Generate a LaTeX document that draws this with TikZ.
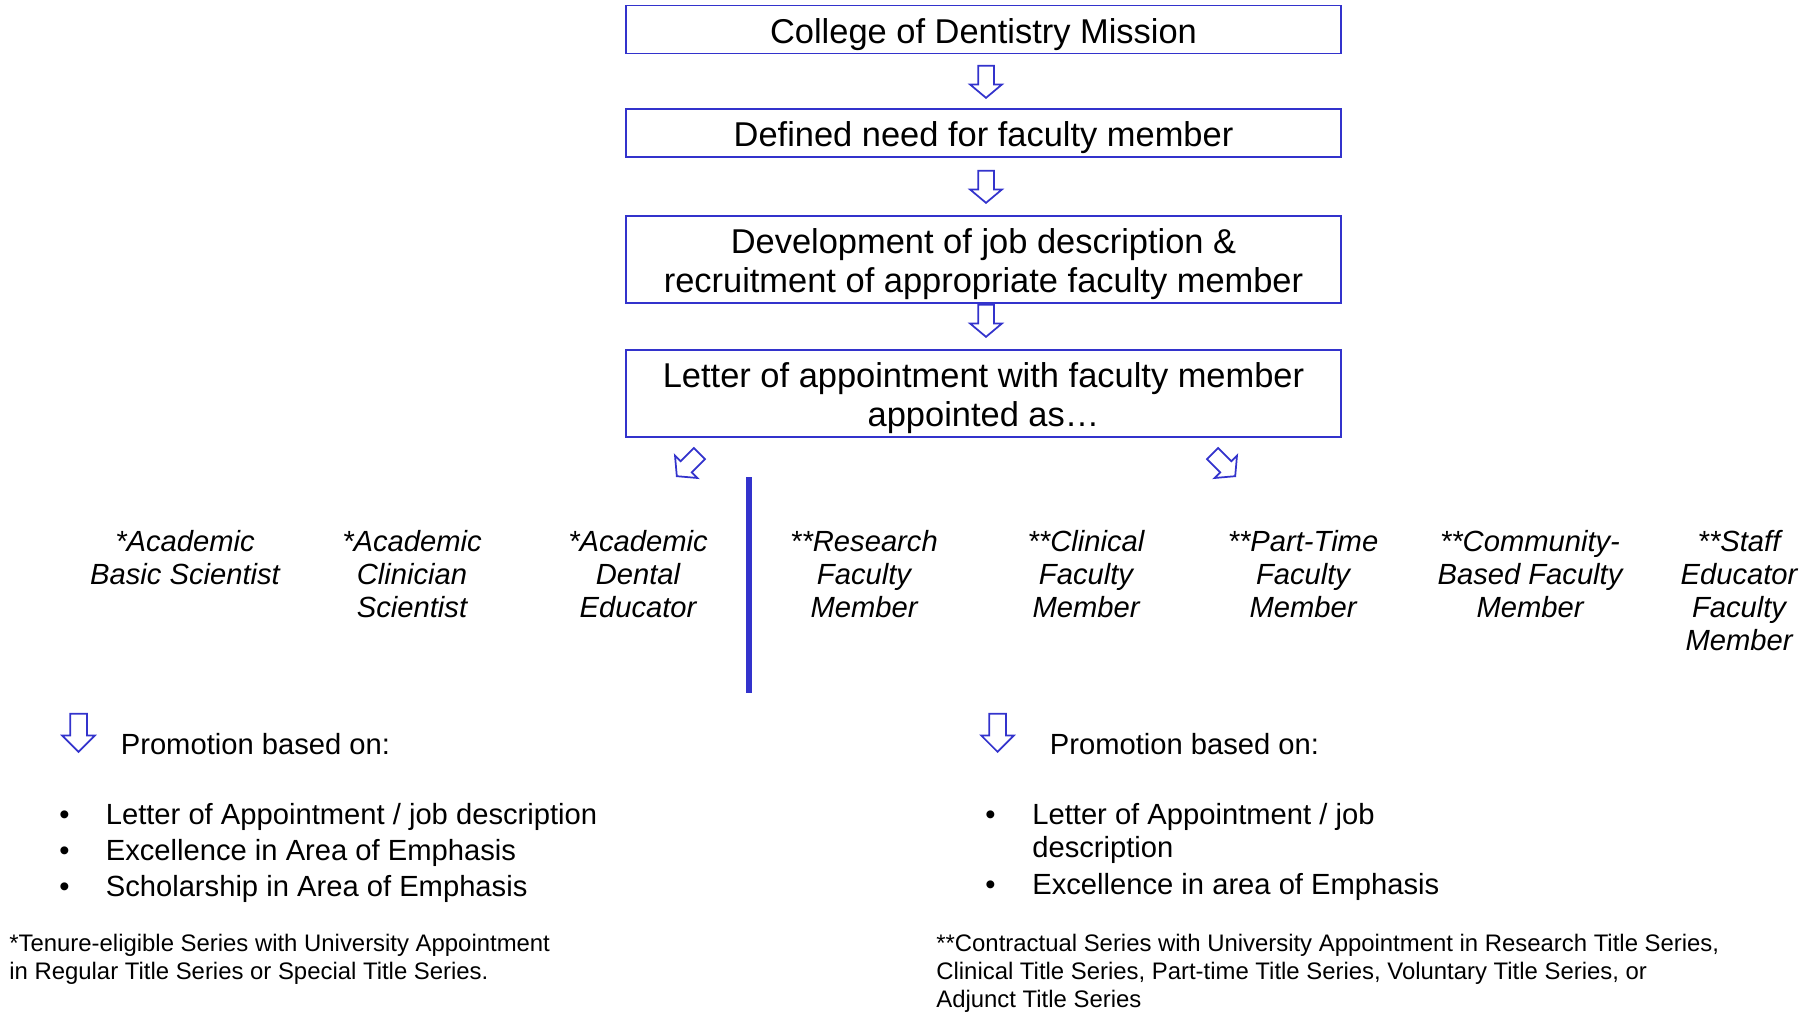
\documentclass[tikz,border=0pt]{standalone}
\usepackage{fontspec}
\setmainfont{Liberation Sans}
\usepackage{array}
\usetikzlibrary{shapes.arrows}
\definecolor{dentblue}{RGB}{51,51,204}

\begin{document}
\begin{tikzpicture}[
		stagebox/.style={rectangle, draw=dentblue, line width=0.035cm, minimum width=14.3cm, minimum height=0.96cm, inner sep=0pt, align=center, font=\fontsize{19.6}{22.4}\selectfont},
		hollowarrow/.style={single arrow, draw=dentblue, line width=0.035cm, minimum height=0.64cm, inner xsep=0pt, inner ysep=0.14cm, single arrow head extend=0.16cm, single arrow tip angle=100, anchor=tip},
		promoarrow/.style={hollowarrow, rotate=-90, minimum height=0.76cm, inner ysep=0.15cm, single arrow tip angle=90},
		seriesname/.style={align=center, anchor=north, inner sep=0pt, font=\fontsize{16.6}{18.8}\selectfont\itshape},
		promotext/.style={anchor=base west, inner sep=0pt, font=\fontsize{16.6}{18.8}\selectfont},
		seriesnote/.style={anchor=north west, align=left, inner sep=0pt, font=\fontsize{13.6}{15.8}\selectfont}
	]
		\useasboundingbox (0,0) rectangle (36.36,-20.24);
		
		\node (mission) [stagebox] at (19.67,-0.59) {\rule{0pt}{1em}College of Dentistry Mission};
		\node (need) [stagebox] at (19.67,-2.66) {\rule{0pt}{1em}Defined need for faculty member};
		\node (recruit) [stagebox, minimum height=1.74cm] at (19.67,-5.19) {\rule{0pt}{1em}Development of job description \&\\recruitment of appropriate faculty member};
		\node (letter) [stagebox, minimum height=1.74cm] at (19.67,-7.87) {\rule{0pt}{1em}Letter of appointment with faculty member\\appointed as…};
		
		\node (arrA) [hollowarrow, rotate=-90] at (19.72,-1.98) {};
		\node (arrB) [hollowarrow, rotate=-90] at (19.72,-4.08) {};
		\node (arrC) [hollowarrow, rotate=-90] at (19.72,-6.76) {};
		\node (arrleft) [hollowarrow, rotate=-135] at (13.52,-9.54) {};
		\node (arrright) [hollowarrow, rotate=-45] at (24.72,-9.54) {};
		
		\coordinate (divtop) at (14.98,-9.54);
		\coordinate (divbot) at (14.98,-13.86);
		\draw [dentblue, line width=0.12cm] (divtop) -- (divbot);
		
		\node (basic) [seriesname] at (3.70,-10.6) {*Academic\\Basic Scientist};
		\node (clinsci) [seriesname] at (8.24,-10.6) {*Academic\\Clinician\\Scientist};
		\node (dented) [seriesname] at (12.76,-10.6) {*Academic\\Dental\\Educator};
		\node (research) [seriesname] at (17.28,-10.6) {**Research\\Faculty\\Member};
		\node (clinical) [seriesname] at (21.72,-10.6) {**Clinical\\Faculty\\Member};
		\node (parttime) [seriesname] at (26.06,-10.6) {**Part-Time\\Faculty\\Member};
		\node (community) [seriesname] at (30.60,-10.6) {**Community-\\Based Faculty\\Member};
		\node (staffed) [seriesname] at (34.78,-10.6) {**Staff\\Educator\\Faculty\\Member};
		
		\node (promoarrL) [promoarrow] at (1.57,-15.06) {};
		\node (promoL) [promotext] at (2.41,-15.08) {Promotion based on:};
		\node (promoarrR) [promoarrow] at (19.95,-15.06) {};
		\node (promoR) [promotext] at (20.99,-15.08) {Promotion based on:};
		
		\node (critL) [promotext] at (1.18,-16.48) {\begin{tabular}[t]{@{}p{0.93cm}@{}l@{}}
				\textbullet & Letter of Appointment / job description\\[0.06cm]
				\textbullet & Excellence in Area of Emphasis\\[0.06cm]
				\textbullet & Scholarship in Area of Emphasis
		\end{tabular}};
		\node (critR) [promotext] at (19.70,-16.48) {\begin{tabular}[t]{@{}p{0.94cm}@{}>{\raggedright\arraybackslash}p{8.8cm}@{}}
				\textbullet & Letter of Appointment / job description\\ \noalign{\vskip 0.08cm}
				\textbullet & Excellence in area of Emphasis
		\end{tabular}};
		
		\node (tenurenote) [seriesnote] at (0.18,-18.68) {*Tenure-eligible Series with University Appointment\\in Regular Title Series or Special Title Series.};
		\node (contractnote) [seriesnote] at (18.72,-18.68) {**Contractual Series with University Appointment in Research Title Series,\\Clinical Title Series, Part-time Title Series, Voluntary Title Series, or\\Adjunct Title Series};
		
\end{tikzpicture}
\end{document}
